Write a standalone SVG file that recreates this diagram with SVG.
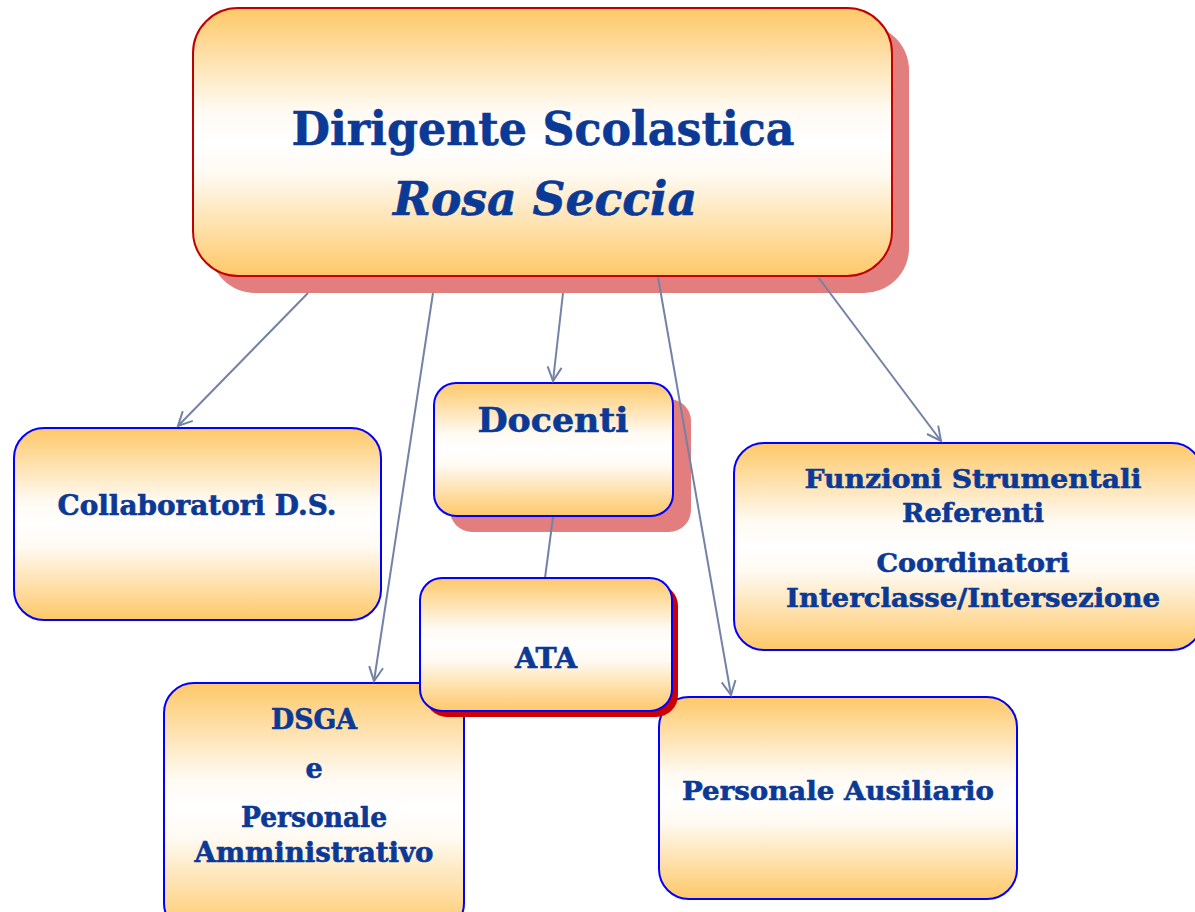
<svg xmlns="http://www.w3.org/2000/svg" width="1195" height="912" viewBox="0 0 1195 912">
<defs>
<linearGradient id="g" x1="0" y1="0" x2="0" y2="1">
<stop offset="0" stop-color="#fec868"/>
<stop offset="0.38" stop-color="#fffaf2"/>
<stop offset="0.5" stop-color="#ffffff"/>
<stop offset="0.62" stop-color="#fffaf2"/>
<stop offset="1" stop-color="#fec868"/>
</linearGradient>
<marker id="arr" markerUnits="userSpaceOnUse" markerWidth="20" markerHeight="20" viewBox="0 0 20 20" refX="16" refY="10" orient="auto">
<path d="M2,3 L16,10 L2,17" fill="none" stroke="#7482a6" stroke-width="2"/>
</marker>
</defs>
<style>
.box{fill:url(#g);stroke:#0000ff;stroke-width:2}
.sh{fill:#e27e7e}
.t{font-family:"DejaVu Serif","Liberation Serif",serif;font-weight:bold;fill:#0b3996;stroke:#0b3996;stroke-width:0.6;text-anchor:middle}
.c{stroke:#7482a6;stroke-width:2;fill:none}
</style>
<rect width="1195" height="912" fill="#ffffff"/>

<g id="dirigente">
<rect class="sh" x="210" y="25" width="699" height="268" rx="45"/>
<rect x="193" y="8" width="699" height="268" rx="45" fill="url(#g)" stroke="#c00000" stroke-width="2"/>
<text class="t" x="543" y="145" font-size="46" textLength="503" lengthAdjust="spacingAndGlyphs">Dirigente Scolastica</text>
<text class="t" x="545" y="215" font-size="46" font-style="italic" textLength="304" lengthAdjust="spacingAndGlyphs">Rosa Seccia</text>
</g>

<g id="collaboratori">
<rect class="box" x="14" y="428" width="367" height="192" rx="30"/>
<text class="t" x="197" y="515" font-size="27" textLength="279" lengthAdjust="spacingAndGlyphs">Collaboratori  D.S.</text>
</g>

<g id="funzioni">
<rect class="box" x="734" y="443" width="468" height="207" rx="30"/>
<text class="t" x="973" y="488" font-size="26" textLength="337" lengthAdjust="spacingAndGlyphs">Funzioni  Strumentali</text>
<text class="t" x="973" y="522" font-size="26" textLength="142" lengthAdjust="spacingAndGlyphs">Referenti</text>
<text class="t" x="973" y="572" font-size="26" textLength="193" lengthAdjust="spacingAndGlyphs">Coordinatori</text>
<text class="t" x="973" y="607" font-size="26" textLength="374" lengthAdjust="spacingAndGlyphs">Interclasse/Intersezione</text>
</g>

<g id="dsga">
<rect class="box" x="164" y="683" width="300" height="250" rx="30"/>
<text class="t" x="314" y="729" font-size="27" textLength="86" lengthAdjust="spacingAndGlyphs">DSGA</text>
<text class="t" x="314" y="778" font-size="27">e</text>
<text class="t" x="314" y="827" font-size="27" textLength="146" lengthAdjust="spacingAndGlyphs">Personale</text>
<text class="t" x="314" y="862" font-size="27" textLength="239" lengthAdjust="spacingAndGlyphs">Amministrativo</text>
</g>

<g id="ausiliario">
<rect class="box" x="659" y="697" width="358" height="202" rx="30"/>
<text class="t" x="838" y="800" font-size="26" textLength="312" lengthAdjust="spacingAndGlyphs">Personale  Ausiliario</text>
</g>

<g id="docenti">
<rect class="sh" x="450" y="399" width="241" height="133" rx="22"/>
<rect class="box" x="434" y="383" width="239" height="133" rx="22"/>
<text class="t" x="553" y="432" font-size="33" textLength="151" lengthAdjust="spacingAndGlyphs">Docenti</text>
</g>

<g id="connectors">
<line class="c" x1="308" y1="293" x2="178" y2="426" marker-end="url(#arr)"/>
<line class="c" x1="433" y1="293" x2="374" y2="681" marker-end="url(#arr)"/>
<line class="c" x1="563" y1="293" x2="553" y2="381" marker-end="url(#arr)"/>
<line class="c" x1="658" y1="277" x2="731" y2="695" marker-end="url(#arr)"/>
<line class="c" x1="818" y1="277" x2="941" y2="441" marker-end="url(#arr)"/>
<line class="c" x1="553" y1="517" x2="545" y2="578"/>
</g>

<g id="ata">
<rect x="425" y="584" width="253" height="133" rx="22" fill="#cc0000"/>
<rect class="box" x="420" y="578" width="252" height="133" rx="22"/>
<text class="t" x="546" y="668" font-size="27" textLength="62" lengthAdjust="spacingAndGlyphs">ATA</text>
</g>
</svg>
